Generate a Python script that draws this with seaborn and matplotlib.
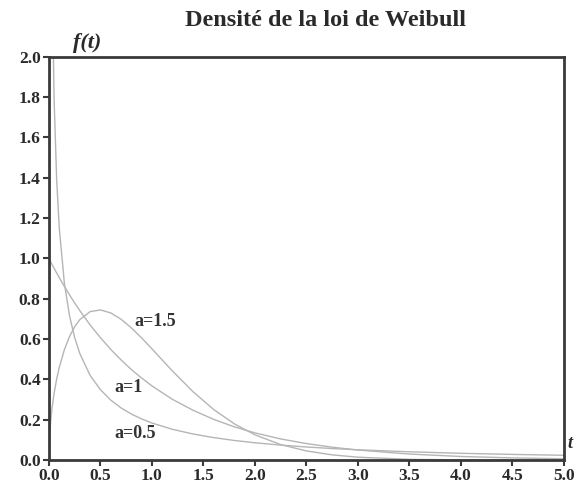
import numpy as np
import pandas as pd
import matplotlib
matplotlib.use("Agg")
import matplotlib.pyplot as plt
import seaborn as sns

# t values (time)
t = [0.0, 0.01, 0.02, 0.03, 0.05, 0.075, 0.1, 0.15, 0.2, 0.25, 0.3, 0.4, 0.5,
     0.6, 0.7, 0.8, 0.9, 1.0, 1.2, 1.4, 1.6, 1.8, 2.0, 2.25, 2.5, 2.75, 3.0,
     3.5, 4.0, 4.5, 5.0]

# density readings for each shape parameter
f_a05 = [np.nan, 4.524, 3.069, 2.428, 1.788, 1.388, 1.152, 0.876, 0.715, 0.607,
         0.528, 0.420, 0.349, 0.2975, 0.2589, 0.2286, 0.2041, 0.1839, 0.1526,
         0.1294, 0.1116, 0.0974, 0.0860, 0.0744, 0.0651, 0.0574, 0.0511,
         0.0412, 0.0338, 0.0283, 0.0239]
f_a1 = [1.0, 0.990, 0.980, 0.970, 0.951, 0.928, 0.905, 0.861, 0.819, 0.779,
        0.741, 0.670, 0.607, 0.549, 0.497, 0.449, 0.407, 0.368, 0.301, 0.247,
        0.202, 0.165, 0.135, 0.105, 0.082, 0.064, 0.050, 0.030, 0.018, 0.011,
        0.0067]
f_a15 = [0.0, 0.1499, 0.2115, 0.2585, 0.3317, 0.4024, 0.4596, 0.5482, 0.6134,
         0.6619, 0.6971, 0.7366, 0.7448, 0.7300, 0.6987, 0.6560, 0.6059,
         0.5518, 0.4414, 0.3386, 0.2507, 0.1799, 0.1254, 0.0770, 0.0455,
         0.0260, 0.0144, 0.0040, 0.0010, 0.0002, 0.0000]

series_names = ["a=0.5", "a=1", "a=1.5"]
x_ticks = [0.0, 0.5, 1.0, 1.5, 2.0, 2.5, 3.0, 3.5, 4.0, 4.5, 5.0]
y_ticks = [0.0, 0.2, 0.4, 0.6, 0.8, 1.0, 1.2, 1.4, 1.6, 1.8, 2.0]

df = pd.DataFrame({
    "t": t * 3,
    "f": f_a05 + f_a1 + f_a15,
    "shape": [series_names[0]] * len(t) + [series_names[1]] * len(t) + [series_names[2]] * len(t),
})

sns.set_style("white")
plt.rcParams["font.family"] = ["Liberation Serif", "DejaVu Serif"]

fig = plt.figure(figsize=(5.76, 4.9), dpi=100)
ax = fig.add_axes([0.085, 0.061, 0.894, 0.823])

sns.lineplot(data=df, x="t", y="f", hue="shape",
             palette=["#b5b5b5", "#b5b5b5", "#b5b5b5"],
             linewidth=1.0, legend=False, ax=ax, estimator=None, sort=False)

ax.set_xlim(0, 5)
ax.set_ylim(0, 2)
ax.set_xticks(x_ticks)
ax.set_yticks(y_ticks)
ax.set_xticklabels([f"{v:.1f}" for v in x_ticks], fontweight="bold")
ax.set_yticklabels([f"{v:.1f}" for v in y_ticks], fontweight="bold")
ax.set_xlabel("")
ax.set_ylabel("")

for s in ax.spines.values():
    s.set_color("#3a3a3a")
    s.set_linewidth(2.0)
    s.set_visible(True)

ax.tick_params(axis="both", direction="out", length=4, width=1.5,
               color="#3a3a3a", labelsize=12.5, labelcolor="#2a2a2a", pad=2)
ax.tick_params(top=False, right=False, bottom=True, left=True)

fig.text(0.565, 0.958, "Densité de la loi de Weibull", fontsize=17.5,
         fontweight="bold", color="#2a2a2a", ha="center", va="center")

fig.text(0.126, 0.902, "f(t)", fontsize=16, style="italic", fontweight="bold",
         color="#2a2a2a")
fig.text(0.985, 0.085, "t", fontsize=13, style="italic", fontweight="bold",
         color="#2a2a2a")

ax.text(0.83, 0.685, "a=1.5", fontsize=13, fontweight="bold", color="#333333", va="center")
ax.text(0.64, 0.36, "a=1", fontsize=13, fontweight="bold", color="#333333", va="center")
ax.text(0.64, 0.13, "a=0.5", fontsize=13, fontweight="bold", color="#333333", va="center")

fig.savefig("out.png", dpi=100)
